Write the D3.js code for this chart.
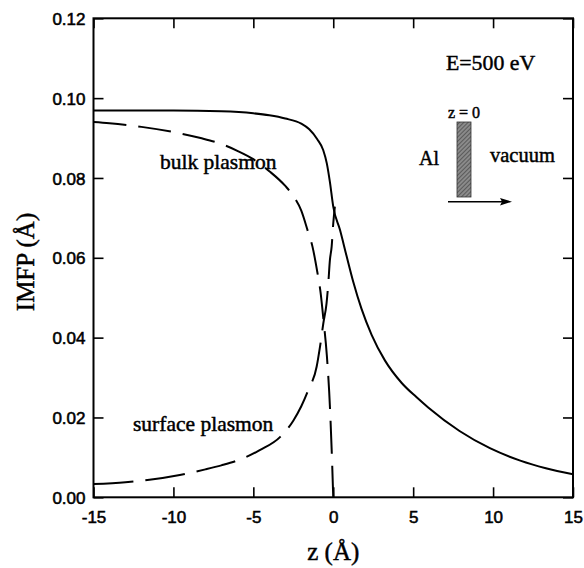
<!DOCTYPE html>
<html>
<head>
<meta charset="utf-8">
<script src="https://cdn.jsdelivr.net/npm/d3@7"></script>
<style>
  html, body { margin: 0; padding: 0; background: #fff; }
  svg { display: block; }
  .tick-label { font-family: "Liberation Sans", Arial, sans-serif; font-size: 17px; fill: #000; stroke: #000; stroke-width: 0.55px; }
  .serif { font-family: "Liberation Serif", "Times New Roman", serif; fill: #000; stroke: #000; stroke-width: 0.45px; }
</style>
</head>
<body>
<svg id="chart" width="584" height="568"></svg>
<script>
// Inelastic mean free path of 500 eV electrons near an Al / vacuum interface.
// z < 0 is inside the metal, z > 0 is vacuum.

// Total IMFP (solid curve)
const totalZ = [-15, -10, -7, -5, -4, -3, -2, -1.5, -1, -0.63, -0.4, -0.21, 0, 0.42, 0.83, 1.25, 1.77, 2.4, 3.23, 4.27, 5.2, 5.94, 7.9, 9.8, 11.7, 13.3, 15];
const totalV = [0.0969, 0.0969, 0.0967, 0.0962, 0.0957, 0.0949, 0.0936, 0.0922, 0.0897, 0.0870, 0.0836, 0.0790, 0.0728, 0.0670, 0.0605, 0.0540, 0.0472, 0.0407, 0.0343, 0.0287, 0.0251, 0.0225, 0.0166, 0.0123, 0.0092, 0.0073, 0.0058];

// Bulk plasmon contribution (dashed)
const bulkZ = [-15, -14, -12, -10, -8.3, -7, -6, -5, -4, -3, -2.5, -2, -1.6, -1.3, -1, -0.8, -0.6, -0.4, -0.2, -0.1, 0];
const bulkV = [0.0940, 0.0937, 0.0928, 0.0915, 0.0900, 0.0885, 0.0868, 0.0847, 0.0817, 0.0780, 0.0755, 0.0718, 0.0668, 0.0628, 0.0565, 0.0515, 0.0440, 0.0355, 0.0220, 0.0120, 0.0000];

// Surface plasmon contribution (dashed)
const surfZ = [-15, -13, -11.5, -9.6, -8, -7, -5.8, -4.6, -3.3, -2.5, -2, -1.56, -1.04, -0.83, -0.62, -0.42, -0.31, -0.21, -0.1, 0, 0.1];
const surfV = [0.0033, 0.0038, 0.0044, 0.0056, 0.0070, 0.0080, 0.0095, 0.0118, 0.0152, 0.0192, 0.0228, 0.0269, 0.0327, 0.0377, 0.0436, 0.0486, 0.0536, 0.0594, 0.0628, 0.0686, 0.0728];

// Axis ticks
const xTicks = [-15, -10, -5, 0, 5, 10, 15];
const yTicks = [0.00, 0.02, 0.04, 0.06, 0.08, 0.10, 0.12];

const svg = d3.select("#chart");
const plot = { left: 93.5, right: 573, top: 18.3, bottom: 497.3 };

const x = d3.scaleLinear().domain([-15, 15]).range([plot.left, plot.right]);
const y = d3.scaleLinear().domain([0, 0.12]).range([plot.bottom, plot.top]);

const zip = (zs, vs) => zs.map((z, i) => [z, vs[i]]);
const line = d3.line().x(d => x(d[0])).y(d => y(d[1])).curve(d3.curveMonotoneX);

// Curves
const curves = svg.append("g");
curves.append("path")
  .attr("d", line(zip(totalZ, totalV)))
  .attr("fill", "none").attr("stroke", "#000").attr("stroke-width", 2);
curves.append("path")
  .attr("d", line(zip(bulkZ, bulkV)))
  .attr("fill", "none").attr("stroke", "#000").attr("stroke-width", 2)
  .attr("stroke-dasharray", "33,12");
curves.append("path")
  .attr("d", line(zip(surfZ, surfV)))
  .attr("fill", "none").attr("stroke", "#000").attr("stroke-width", 2)
  .attr("stroke-dasharray", "40,12");

// Axes with inward ticks on all four sides
const tickLen = 10;
const fmtY = d3.format(".2f");
const bottomAxis = d3.axisBottom(x).tickValues(xTicks).tickSize(-tickLen).tickPadding(0).tickFormat(d => d3.format("d")(d).replace("−", "-"));
const topAxis = d3.axisTop(x).tickValues(xTicks).tickSize(-tickLen).tickFormat("");
const leftAxis = d3.axisLeft(y).tickValues(yTicks).tickSize(-tickLen).tickFormat(fmtY);
const rightAxis = d3.axisRight(y).tickValues(yTicks).tickSize(-tickLen).tickFormat("");

function style(g) {
  g.select(".domain").remove();
  g.selectAll(".tick line").attr("stroke", "#000").attr("stroke-width", 1.6);
  g.selectAll(".tick text").attr("class", "tick-label").attr("font-size", null).attr("font-family", null);
}

svg.append("g").attr("transform", `translate(0,${plot.bottom})`).call(bottomAxis).call(style)
  .selectAll(".tick text").attr("y", 26).attr("dy", 0);
svg.append("g").attr("transform", `translate(0,${plot.top})`).call(topAxis).call(style);
svg.append("g").attr("transform", `translate(${plot.left},0)`).call(leftAxis).call(style)
  .selectAll(".tick text").attr("x", -8).attr("dy", "0.36em");
svg.append("g").attr("transform", `translate(${plot.right},0)`).call(rightAxis).call(style);

// Frame
svg.append("rect")
  .attr("x", plot.left).attr("y", plot.top)
  .attr("width", plot.right - plot.left).attr("height", plot.bottom - plot.top)
  .attr("fill", "none").attr("stroke", "#000").attr("stroke-width", 2);

// Axis titles
svg.append("text").attr("class", "serif")
  .attr("transform", `translate(34,262) rotate(-90)`)
  .attr("text-anchor", "middle").attr("font-size", 25)
  .text("IMFP (Å)");
svg.append("text").attr("class", "serif")
  .attr("x", x(0)).attr("y", 560)
  .attr("text-anchor", "middle").attr("font-size", 25)
  .text("z (Å)");

// Curve labels
svg.append("text").attr("class", "serif").attr("x", 160).attr("y", 169)
  .attr("font-size", 21.5).text("bulk plasmon");
svg.append("text").attr("class", "serif").attr("x", 133).attr("y", 431)
  .attr("font-size", 21.5).text("surface plasmon");

// Energy annotation
svg.append("text").attr("class", "serif").attr("x", 446).attr("y", 70)
  .attr("font-size", 21.8).text("E=500 eV");

// Inset sketch of the interface
const hatch = svg.append("defs").append("pattern")
  .attr("id", "hatch").attr("patternUnits", "userSpaceOnUse")
  .attr("width", 3).attr("height", 3).attr("patternTransform", "rotate(45)");
hatch.append("rect").attr("width", 3).attr("height", 3).attr("fill", "#8a8a8a");
hatch.append("line").attr("x1", 0).attr("y1", 0).attr("x2", 0).attr("y2", 3)
  .attr("stroke", "#3a3a3a").attr("stroke-width", 1.2);

svg.append("rect")
  .attr("x", 457).attr("y", 122).attr("width", 14).attr("height", 75)
  .attr("fill", "url(#hatch)").attr("stroke", "#333").attr("stroke-width", 0.8);

svg.append("text").attr("class", "serif").attr("x", 464).attr("y", 118)
  .attr("text-anchor", "middle").attr("font-size", 16).text("z = 0");
svg.append("text").attr("class", "serif").attr("x", 419).attr("y", 165)
  .attr("font-size", 20).text("Al");
svg.append("text").attr("class", "serif").attr("x", 490).attr("y", 162)
  .attr("font-size", 20.5).text("vacuum");

svg.append("line")
  .attr("x1", 448).attr("y1", 201.7).attr("x2", 503).attr("y2", 201.7)
  .attr("stroke", "#000").attr("stroke-width", 1.6);
svg.append("path")
  .attr("d", "M512,201.7 L500,198 L502,201.7 L500,205.4 Z")
  .attr("fill", "#000");
</script>
</body>
</html>
